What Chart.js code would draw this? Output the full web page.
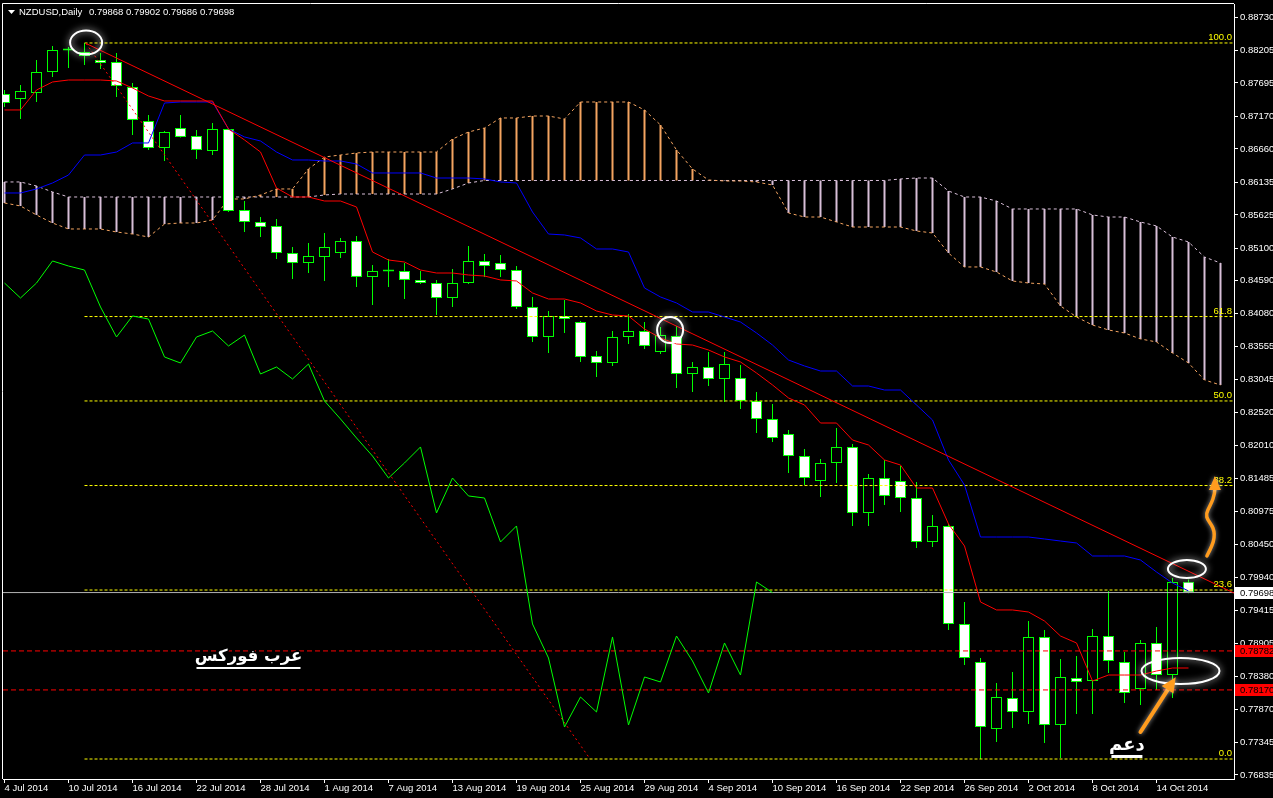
<!DOCTYPE html>
<html><head><meta charset="utf-8">
<script src="https://cdn.jsdelivr.net/npm/chart.js@4.4.1/dist/chart.umd.min.js"></script>
<style>html,body{margin:0;padding:0;background:#000;overflow:hidden}</style>
</head><body>
<canvas id="c" width="1273" height="798"></canvas>
<script>
const dates = ["4 Jul 2014","7 Jul 2014","8 Jul 2014","9 Jul 2014","10 Jul 2014","11 Jul 2014","14 Jul 2014","15 Jul 2014","16 Jul 2014","17 Jul 2014","18 Jul 2014","21 Jul 2014","22 Jul 2014","23 Jul 2014","24 Jul 2014","25 Jul 2014","28 Jul 2014","29 Jul 2014","30 Jul 2014","31 Jul 2014",
"1 Aug 2014","4 Aug 2014","5 Aug 2014","6 Aug 2014","7 Aug 2014","8 Aug 2014","11 Aug 2014","12 Aug 2014","13 Aug 2014","14 Aug 2014","15 Aug 2014","18 Aug 2014","19 Aug 2014","20 Aug 2014","21 Aug 2014","22 Aug 2014","25 Aug 2014","26 Aug 2014","27 Aug 2014","28 Aug 2014","29 Aug 2014",
"1 Sep 2014","2 Sep 2014","3 Sep 2014","4 Sep 2014","5 Sep 2014","8 Sep 2014","9 Sep 2014","10 Sep 2014","11 Sep 2014","12 Sep 2014","15 Sep 2014","16 Sep 2014","17 Sep 2014","18 Sep 2014","19 Sep 2014","22 Sep 2014","23 Sep 2014","24 Sep 2014","25 Sep 2014","26 Sep 2014","29 Sep 2014","30 Sep 2014",
"1 Oct 2014","2 Oct 2014","3 Oct 2014","6 Oct 2014","7 Oct 2014","8 Oct 2014","9 Oct 2014","10 Oct 2014","13 Oct 2014","14 Oct 2014","15 Oct 2014","16 Oct 2014"];

const opens = [0.87523,0.87444,0.87538,0.87868,0.88205,0.88182,0.88056,0.88025,0.87632,0.87099,0.86675,0.86989,0.86863,0.86628,0.86973,0.85702,0.85514,0.85451,0.85027,0.84870,0.84964,0.85027,0.85216,0.84651,0.84735,0.84745,0.84604,0.84556,0.84321,0.84556,0.84902,0.84870,0.84760,0.84180,0.83709,0.84039,0.83944,0.83411,0.83301,0.83709,0.83803,0.83474,0.83725,0.83128,0.83238,0.83050,0.83066,0.82705,0.82422,0.82187,0.81841,0.81449,0.81732,0.81983,0.80947,0.81496,0.81449,0.81182,0.80492,0.80743,0.79205,0.78608,0.77557,0.78043,0.77824,0.79001,0.77620,0.78357,0.78310,0.79016,0.78608,0.78185,0.78907,0.78404,0.79868];
const highs = [0.87585,0.87664,0.88056,0.88276,0.88260,0.88323,0.88166,0.88166,0.87695,0.87193,0.86942,0.87193,0.86958,0.87067,0.86989,0.85843,0.85592,0.85561,0.85121,0.85184,0.85341,0.85263,0.85294,0.84839,0.84933,0.84870,0.84745,0.84604,0.84776,0.85137,0.85012,0.84996,0.84823,0.84337,0.84117,0.84290,0.83960,0.83489,0.83803,0.84070,0.83944,0.83866,0.83882,0.83317,0.83474,0.83474,0.83270,0.82846,0.82657,0.82249,0.81951,0.81794,0.82281,0.82030,0.81559,0.81779,0.81684,0.81433,0.80915,0.80774,0.79550,0.78671,0.78279,0.78451,0.79252,0.79111,0.78656,0.78703,0.79126,0.79723,0.78765,0.78954,0.79158,0.79927,0.79902];
const lows = [0.87319,0.87130,0.87397,0.87789,0.87931,0.87978,0.87915,0.87476,0.86879,0.86644,0.86471,0.86840,0.86503,0.86565,0.85671,0.85357,0.85278,0.84933,0.84619,0.84713,0.84588,0.84949,0.84494,0.84211,0.84494,0.84305,0.84541,0.84054,0.84180,0.84541,0.84651,0.84651,0.84148,0.83631,0.83458,0.83772,0.83317,0.83081,0.83254,0.83599,0.83521,0.83442,0.82909,0.82846,0.82940,0.82689,0.82579,0.82202,0.82061,0.81575,0.81386,0.81198,0.81418,0.80743,0.80743,0.81072,0.80963,0.80398,0.80413,0.79111,0.78561,0.77086,0.77353,0.77573,0.77635,0.77337,0.77102,0.77792,0.77792,0.78436,0.77965,0.77934,0.78169,0.78043,0.79686];
const closes = [0.87381,0.87570,0.87868,0.88213,0.88213,0.88119,0.88009,0.87648,0.87115,0.86675,0.86926,0.86848,0.86644,0.86973,0.85686,0.85514,0.85435,0.85027,0.84870,0.84980,0.85121,0.85216,0.84651,0.84745,0.84745,0.84604,0.84556,0.84321,0.84556,0.84902,0.84823,0.84760,0.84180,0.83709,0.84039,0.83991,0.83395,0.83301,0.83709,0.83803,0.83568,0.83740,0.83128,0.83238,0.83050,0.83285,0.82705,0.82422,0.82124,0.81841,0.81496,0.81732,0.81983,0.80947,0.81496,0.81214,0.81182,0.80492,0.80743,0.79205,0.78671,0.77588,0.78059,0.77824,0.79001,0.77620,0.78373,0.78295,0.79016,0.78624,0.78122,0.78907,0.78404,0.79864,0.79698];

const tenkan = [0.87272,0.87272,0.87585,0.87711,0.87742,0.87742,0.87742,0.87727,0.87617,0.87491,0.87413,0.87413,0.87413,0.87413,0.86973,0.86801,0.86612,0.86047,0.85906,0.85906,0.85843,0.85843,0.85749,0.85043,0.84917,0.84886,0.84760,0.84713,0.84713,0.84682,0.84666,0.84604,0.84588,0.84400,0.84305,0.84305,0.84243,0.84117,0.84054,0.84039,0.83834,0.83693,0.83599,0.83583,0.83505,0.83395,0.83317,0.83144,0.82956,0.82752,0.82642,0.82359,0.82359,0.82092,0.82014,0.81779,0.81700,0.81339,0.81339,0.80774,0.80429,0.79550,0.79425,0.79425,0.79393,0.79252,0.79016,0.78907,0.78310,0.78404,0.78404,0.78404,0.78467,0.78514,0.78514];
const kijun = [0.85969,0.85969,0.86032,0.86126,0.86251,0.86565,0.86565,0.86612,0.86754,0.86754,0.87381,0.87397,0.87397,0.87397,0.86973,0.86848,0.86785,0.86612,0.86487,0.86487,0.86471,0.86471,0.86424,0.86283,0.86283,0.86283,0.86283,0.86204,0.86204,0.86204,0.86189,0.86142,0.86126,0.85671,0.85325,0.85310,0.85263,0.85090,0.85090,0.85043,0.84478,0.84337,0.84243,0.84101,0.84101,0.84023,0.83944,0.83772,0.83583,0.83348,0.83254,0.83175,0.83175,0.82940,0.82940,0.82877,0.82877,0.82642,0.82406,0.81779,0.81386,0.80570,0.80570,0.80570,0.80570,0.80539,0.80507,0.80476,0.80272,0.80272,0.80272,0.80209,0.80021,0.79848,0.79723];
const spanA = [0.85812,0.85765,0.85624,0.85498,0.85404,0.85404,0.85404,0.85357,0.85325,0.85278,0.85482,0.85498,0.85498,0.85545,0.85875,0.85875,0.85938,0.86032,0.86032,0.86346,0.86534,0.86565,0.86597,0.86612,0.86612,0.86612,0.86612,0.86612,0.86816,0.86926,0.86989,0.87146,0.87146,0.87177,0.87177,0.87130,0.87397,0.87397,0.87397,0.87397,0.87272,0.87036,0.86644,0.86346,0.86173,0.86157,0.86157,0.86142,0.86094,0.85655,0.85592,0.85592,0.85514,0.85435,0.85435,0.85435,0.85435,0.85373,0.85341,0.85027,0.84808,0.84808,0.84729,0.84588,0.84556,0.84541,0.84196,0.84023,0.83897,0.83819,0.83772,0.83678,0.83631,0.83458,0.83301,0.83034,0.82956];
const spanB = [0.86142,0.86142,0.86079,0.85985,0.85906,0.85906,0.85906,0.85906,0.85906,0.85906,0.85906,0.85906,0.85906,0.85906,0.85906,0.85906,0.85906,0.85906,0.85906,0.85906,0.85938,0.85953,0.85953,0.85953,0.85953,0.85953,0.85953,0.85953,0.86032,0.86126,0.86165,0.86165,0.86165,0.86165,0.86165,0.86165,0.86165,0.86165,0.86165,0.86165,0.86165,0.86165,0.86165,0.86165,0.86165,0.86165,0.86165,0.86165,0.86165,0.86165,0.86165,0.86165,0.86165,0.86165,0.86165,0.86165,0.86189,0.86204,0.86204,0.86000,0.85906,0.85906,0.85843,0.85718,0.85718,0.85718,0.85718,0.85718,0.85624,0.85592,0.85592,0.85514,0.85451,0.85278,0.85200,0.84964,0.84870];

const yTicks = [0.88730,0.88205,0.87695,0.87170,0.86660,0.86135,0.85625,0.85100,0.84590,0.84080,0.83555,0.83045,0.82520,0.82010,0.81485,0.80975,0.80450,0.79940,0.79415,0.78905,0.78380,0.77870,0.77345,0.76835];
const xTickIdx = [0,4,8,12,16,20,24,28,32,36,40,44,48,52,56,60,64,68,72];
const fibLevels = [0.0, 23.6, 38.2, 50.0, 61.8, 100.0];
const fibPrices = [0.77086, 0.79738, 0.81378, 0.82705, 0.84030, 0.88323];
const fibStart = 5;
const fibDiag = [[5.1, 0.88315], [36.6, 0.77086]];
const trendLine = [[5.1, 0.88315], [76.84, 0.79691]];
const markedLevels = [0.78782, 0.78170];
const lastPrice = 0.79698;
const symbolTitle = "NZDUSD,Daily";
const headerValues = ["0.79868", "0.79902", "0.79686", "0.79698"];
const arabicTitle = "عرب فوركس";
const supportWord = "دعم";

const xMin = -0.09375, xMax = 76.84375;
const yMin = 0.767722, yMax = 0.889348;
const FONT = '"Liberation Sans", Arial, sans-serif';

const idx = opens.map((_, i) => i);
const P = arr => arr.map((v, i) => ({x: i, y: v}));
const bodyColors = opens.map((o, i) => closes[i] < o ? '#ffffff' : '#000000');
const hatchColors = spanA.map((a, i) => a > spanB[i] ? '#F4A460' : '#D8BFD8');
const flat = (p, x0, x1) => [{x: x0, y: p}, {x: x1, y: p}];

const datasets = [
  {type:'line', label:'Trend', data: trendLine.map(([x,y]) => ({x,y})), borderColor:'#ff0000', order:1},
  {type:'line', label:'Tenkan', data: P(tenkan), borderColor:'#ff0000', order:2},
  {type:'line', label:'Kijun', data: P(kijun), borderColor:'#0000ff', order:2},
  {type:'line', label:'Chikou', data: closes.slice(26).map((v, i) => ({x: i, y: v})), borderColor:'#00ff00', order:2},
  {type:'line', label:'FibDiag', data: fibDiag.map(([x,y]) => ({x,y})), borderColor:'#ff0000', borderDash:[2,3], order:3},
  ...fibPrices.map((p, i) => ({type:'line', label:'Fib ' + fibLevels[i], data: flat(p, fibStart, xMax), borderColor:'#ffff00', borderDash:[3,2], order:3})),
  ...markedLevels.map(p => ({type:'line', label:'Level ' + p, data: flat(p, xMin, xMax), borderColor:'#ff0000', borderDash:[5,3], order:3})),
  {type:'line', label:'Bid', data: flat(lastPrice, xMin, xMax), borderColor:'#b4b4b4', order:4},
  {type:'bar', label:'Body', data: idx.map(i => ({x: i, y: [opens[i], closes[i]]})), backgroundColor: bodyColors, borderColor:'#00ff00', borderWidth:1, borderSkipped:false, barThickness:11, minBarLength:2, order:6},
  {type:'bar', label:'Wick', data: idx.map(i => ({x: i, y: [lows[i], highs[i]]})), backgroundColor:'#00ff00', barThickness:1, order:7},
  {type:'line', label:'SpanA', data: P(spanA), borderColor:'#F4A460', borderDash:[3,3], order:8},
  {type:'line', label:'SpanB', data: P(spanB), borderColor:'#D8BFD8', borderDash:[3,3], order:8},
  {type:'bar', label:'Cloud', data: spanA.map((a, i) => ({x: i, y: [Math.min(a, spanB[i]), Math.max(a, spanB[i])]})), backgroundColor: hatchColors, barThickness:2, order:9}
];
datasets.forEach(d => { if (d.type === 'bar') { d.grouped = false; d.inflateAmount = 0; } });

const annotations = {
  ellipses: [
    {k: 5.1, p: 0.88330, rx: 16, ry: 12},
    {k: 41.6, p: 0.83819, rx: 13, ry: 13},
    {k: 73.9, p: 0.80068, rx: 19, ry: 9},
    {k: 73.5, p: 0.78467, rx: 39, ry: 13}
  ],
  arrow: {from: [71.0, 0.77510], to: [73.2, 0.78370]},
  curl: {k: 75.15, p: 0.80272},
  title: {k: 15.25, p: 0.78687},
  support: {k: 70.15, p: 0.77306}
};

const overlay = {
  id: 'overlay',
  beforeDraw(chart) {
    const c = chart.ctx; c.save(); c.fillStyle = '#000'; c.fillRect(0, 0, chart.width, chart.height); c.restore();
  },
  afterDraw(chart) {
    const c = chart.ctx, a = chart.chartArea, xs = chart.scales.x, ys = chart.scales.y;
    const X = v => xs.getPixelForValue(v), Y = v => ys.getPixelForValue(v);
    c.save();
    c.strokeStyle = '#ffffff'; c.lineWidth = 1;
    c.beginPath(); c.moveTo(a.left - 0.5, a.bottom); c.lineTo(a.left - 0.5, a.top - 0.5); c.lineTo(a.right, a.top - 0.5); c.stroke();
    c.font = '9.5px ' + FONT; c.fillStyle = '#ffff00'; c.textAlign = 'right'; c.textBaseline = 'bottom';
    fibPrices.forEach((p, i) => c.fillText(fibLevels[i].toFixed(1), a.right - 2, Y(p) - 0.5));
    const box = (p, bg, fg) => {
      const y = Math.round(Y(p));
      c.fillStyle = bg; c.fillRect(a.right + 1, y - 6, chart.width - a.right - 1, 12);
      c.fillStyle = fg; c.textAlign = 'left'; c.textBaseline = 'middle';
      c.fillText(p.toFixed(5), a.right + 6, y + 0.5);
    };
    markedLevels.forEach(p => box(p, '#ff0000', '#000000'));
    box(lastPrice, '#ffffff', '#000000');
    c.fillStyle = '#ffffff';
    c.beginPath(); c.moveTo(8, 10); c.lineTo(15, 10); c.lineTo(11.5, 14); c.closePath(); c.fill();
    c.textAlign = 'left'; c.textBaseline = 'middle';
    c.fillText(symbolTitle, 19, 12.5);
    c.fillText(headerValues.join(' '), 89, 12.5);
    annotations.ellipses.forEach(e => {
      c.save();
      c.strokeStyle = '#ffffff'; c.lineWidth = 2;
      c.shadowColor = 'rgba(255,255,255,0.9)'; c.shadowBlur = 7;
      c.beginPath(); c.ellipse(X(e.k), Y(e.p), e.rx, e.ry, 0, 0, Math.PI * 2); c.stroke();
      c.restore();
    });
    const orange = '#ff9c1e';
    const ar = annotations.arrow;
    const x0 = X(ar.from[0]), y0 = Y(ar.from[1]), x1 = X(ar.to[0]), y1 = Y(ar.to[1]);
    const dx = x1 - x0, dy = y1 - y0, len = Math.hypot(dx, dy), ux = dx / len, uy = dy / len;
    const hb = 15, hw = 7;
    c.save();
    c.shadowColor = 'rgba(255,255,255,0.6)'; c.shadowBlur = 5;
    c.strokeStyle = orange; c.fillStyle = orange; c.lineWidth = 4; c.lineCap = 'round';
    c.beginPath(); c.moveTo(x0, y0); c.lineTo(x1 - ux * hb, y1 - uy * hb); c.stroke();
    c.beginPath(); c.moveTo(x1, y1);
    c.lineTo(x1 - ux * hb - uy * hw, y1 - uy * hb + ux * hw);
    c.lineTo(x1 - ux * hb + uy * hw, y1 - uy * hb - ux * hw);
    c.closePath(); c.fill();
    const cx = X(annotations.curl.k), cy = Y(annotations.curl.p);
    c.lineWidth = 3.5; c.lineJoin = 'round';
    c.beginPath(); c.moveTo(cx, cy);
    c.bezierCurveTo(cx + 4, cy - 8, cx + 10, cy - 18, cx + 6, cy - 28);
    c.bezierCurveTo(cx + 3, cy - 35, cx - 3, cy - 38, cx + 1, cy - 46);
    c.bezierCurveTo(cx + 5, cy - 54, cx + 8, cy - 60, cx + 8, cy - 68);
    c.stroke();
    c.beginPath(); c.moveTo(cx + 8, cy - 80); c.lineTo(cx + 2, cy - 66); c.lineTo(cx + 14, cy - 66); c.closePath(); c.fill();
    c.restore();
    const label = (txt, k, p, size, ulw, ulh, ulOff) => {
      const x = X(k), y = Y(p);
      c.save();
      c.font = 'bold ' + size + 'px "DejaVu Sans"';
      c.textAlign = 'center'; c.textBaseline = 'middle'; c.direction = 'rtl';
      c.lineWidth = 3; c.strokeStyle = '#000000'; c.lineJoin = 'round';
      c.strokeText(txt, x, y);
      c.fillStyle = '#ffffff'; c.fillText(txt, x, y);
      c.fillRect(x - ulw / 2, y + ulOff, ulw, ulh);
      c.restore();
    };
    label(arabicTitle, annotations.title.k, annotations.title.p, 16.5, 104, 2, 10);
    label(supportWord, annotations.support.k, annotations.support.p, 18, 31, 3, 10);
    c.restore();
  }
};

new Chart(document.getElementById('c'), {
  type: 'bar',
  data: {datasets},
  options: {
    responsive: false, animation: false, devicePixelRatio: 1,
    layout: {padding: {left: 3, top: 4, right: 0, bottom: 0}},
    elements: {line: {borderWidth: 1, tension: 0, fill: false}, point: {radius: 0, hitRadius: 0}},
    plugins: {legend: {display: false}, tooltip: {enabled: false}},
    events: [],
    scales: {
      x: {
        type: 'linear', min: xMin, max: xMax, offset: false,
        afterBuildTicks: ax => { ax.ticks = xTickIdx.map(v => ({value: v})); },
        afterFit: ax => { ax.height = 19; ax.paddingLeft = 0; ax.paddingRight = 0; },
        grid: {drawOnChartArea: false, drawTicks: true, tickLength: 4, color: '#ffffff', offset: false},
        border: {color: '#ffffff'},
        ticks: {color: '#ffffff', font: {family: FONT, size: 9.5}, align: 'start', padding: 0, autoSkip: false, maxRotation: 0, callback: v => dates[v]}
      },
      y: {
        position: 'right', min: yMin, max: yMax,
        afterBuildTicks: ax => { ax.ticks = yTicks.map(v => ({value: v})); },
        afterFit: ax => { ax.width = 39; ax.paddingTop = 0; ax.paddingBottom = 0; },
        grid: {drawOnChartArea: false, drawTicks: true, tickLength: 4, color: '#ffffff'},
        border: {color: '#ffffff'},
        ticks: {color: '#ffffff', font: {family: FONT, size: 9.5}, padding: 2, autoSkip: false, callback: v => v.toFixed(5)}
      }
    }
  },
  plugins: [overlay]
});
</script>
</body></html>
